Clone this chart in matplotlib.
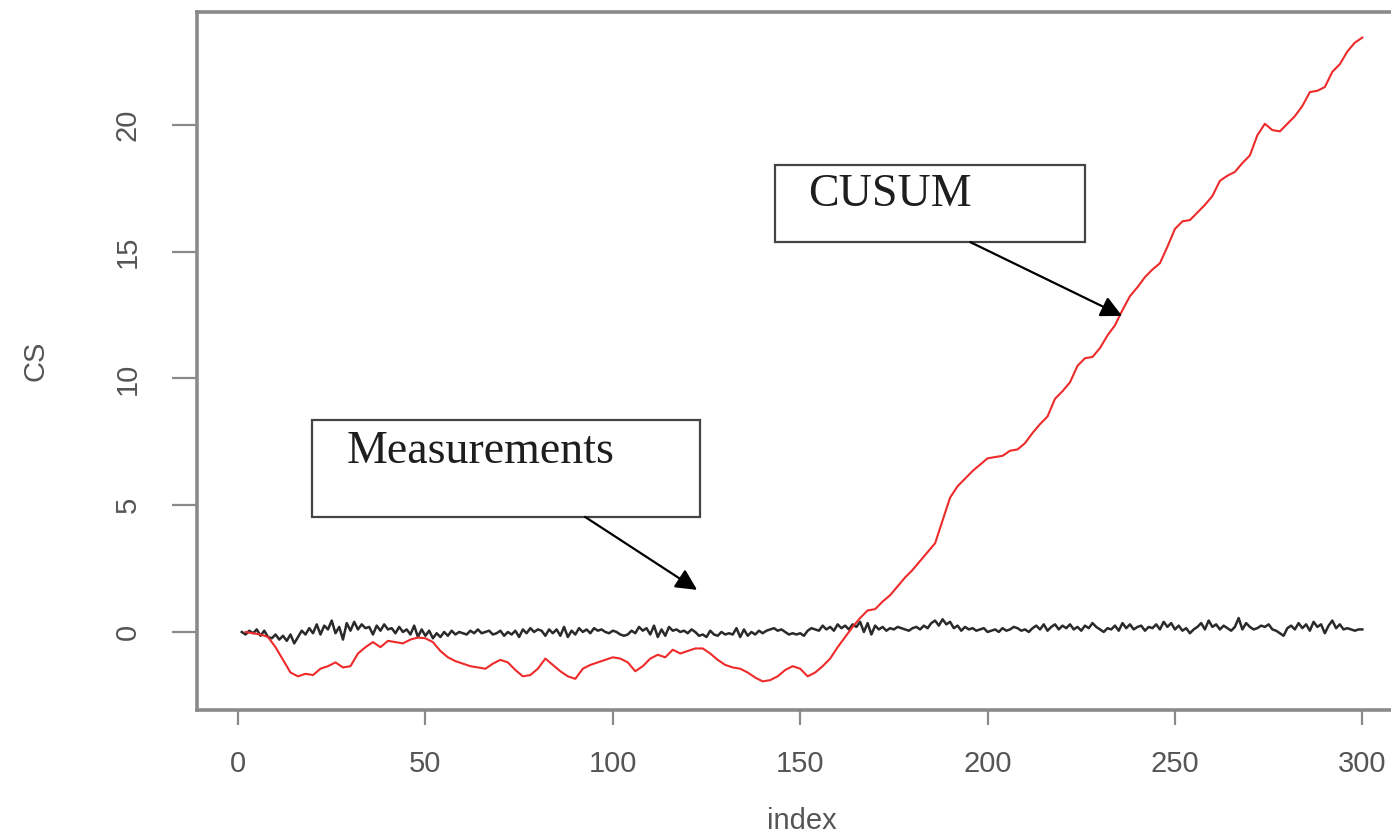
import matplotlib.pyplot as plt
from matplotlib.patches import Rectangle

# raw measurements, one per index
meas_index = list(range(1, 301))
measurements = [
    0.0, -0.1, 0.05, -0.05, 0.1, -0.15, 0.05, -0.2, -0.25, -0.1, -0.3, -0.15, -0.35, -0.1, -0.45, -0.2, 0.05, -0.1, 0.15, -0.05,
    0.3, -0.1, 0.25, 0.1, 0.45, -0.05, 0.2, -0.3, 0.35, 0.05, 0.4, 0.1, 0.3, 0.15, 0.2, -0.1, 0.25, 0.05, 0.3, 0.1,
    0.15, -0.05, 0.2, 0.0, 0.1, -0.1, 0.25, -0.2, 0.1, -0.15, 0.05, -0.25, -0.05, -0.2, 0.0, -0.15, 0.05, -0.1, 0.0, -0.05,
    -0.1, 0.05, -0.05, 0.1, -0.05, 0.0, 0.05, -0.1, -0.05, 0.05, -0.15, 0.0, -0.1, 0.05, -0.2, 0.1, -0.05, 0.15, 0.0, 0.1,
    0.05, -0.15, 0.1, -0.05, 0.1, -0.15, 0.2, -0.2, 0.05, -0.1, 0.15, 0.0, 0.1, -0.05, 0.15, 0.05, 0.1, 0.0, -0.05, 0.05,
    0.0, -0.1, -0.15, -0.1, 0.05, -0.05, 0.2, 0.05, 0.15, -0.1, 0.25, -0.2, 0.1, -0.15, 0.2, 0.05, 0.1, 0.0, 0.05, -0.05,
    0.1, 0.0, -0.15, -0.1, -0.2, 0.05, -0.1, -0.15, 0.0, -0.1, -0.05, -0.1, 0.15, -0.2, 0.1, -0.15, 0.0, -0.1, 0.05, -0.05,
    0.05, 0.1, 0.15, 0.05, 0.1, 0.0, -0.1, -0.05, -0.1, -0.05, -0.15, 0.05, 0.15, 0.1, 0.05, 0.25, 0.1, 0.2, 0.05, 0.3,
    0.15, 0.25, 0.1, 0.3, 0.2, 0.4, 0.0, 0.35, -0.1, 0.25, 0.1, 0.2, 0.05, 0.15, 0.1, 0.2, 0.15, 0.1, 0.05, 0.15,
    0.2, 0.1, 0.25, 0.15, 0.35, 0.45, 0.25, 0.5, 0.3, 0.4, 0.15, 0.25, 0.05, 0.2, 0.1, 0.15, 0.05, 0.1, 0.15, 0.0,
    0.05, 0.1, 0.0, 0.15, 0.05, 0.1, 0.2, 0.15, 0.05, 0.1, 0.0, 0.15, 0.25, 0.1, 0.3, 0.05, 0.2, 0.3, 0.1, 0.25,
    0.15, 0.3, 0.1, 0.2, 0.05, 0.25, 0.15, 0.35, 0.2, 0.1, 0.0, 0.15, 0.1, 0.25, 0.05, 0.35, 0.15, 0.3, 0.1, 0.2,
    0.25, 0.05, 0.2, 0.15, 0.3, 0.1, 0.4, 0.2, 0.35, 0.1, 0.25, 0.05, 0.15, -0.05, 0.1, 0.2, 0.35, 0.1, 0.45, 0.2,
    0.3, 0.1, 0.25, 0.15, 0.05, 0.2, 0.55, 0.1, 0.35, 0.2, 0.1, 0.15, 0.25, 0.2, 0.3, 0.1, 0.05, -0.05, -0.15, 0.15,
    0.25, 0.1, 0.35, 0.15, 0.3, 0.05, 0.4, 0.2, 0.3, -0.05, 0.25, 0.45, 0.15, 0.3, 0.1, 0.15, 0.1, 0.05, 0.1, 0.1,
]

# cumulative sum, read every second index
cs_index = list(range(2, 301, 2))
cusum = [
    0.0, -0.05, -0.1, -0.2, -0.6, -1.1, -1.6, -1.75, -1.65, -1.7,
    -1.45, -1.35, -1.2, -1.4, -1.35, -0.85, -0.6, -0.4, -0.6, -0.35,
    -0.4, -0.45, -0.3, -0.22, -0.25, -0.4, -0.75, -1.0, -1.15, -1.25,
    -1.35, -1.4, -1.45, -1.25, -1.1, -1.2, -1.5, -1.75, -1.7, -1.45,
    -1.05, -1.3, -1.55, -1.75, -1.85, -1.45, -1.3, -1.2, -1.1, -1.0,
    -1.05, -1.2, -1.55, -1.35, -1.05, -0.9, -1.0, -0.7, -0.85, -0.75,
    -0.65, -0.65, -0.85, -1.1, -1.3, -1.4, -1.45, -1.6, -1.8, -1.95,
    -1.9, -1.75, -1.5, -1.35, -1.45, -1.75, -1.6, -1.35, -1.05, -0.6,
    -0.2, 0.2, 0.55, 0.85, 0.9, 1.2, 1.45, 1.8, 2.15, 2.45,
    2.8, 3.15, 3.5, 4.4, 5.3, 5.75, 6.05, 6.35, 6.6, 6.85,
    6.9, 6.95, 7.15, 7.2, 7.45, 7.85, 8.2, 8.5, 9.2, 9.5,
    9.85, 10.5, 10.8, 10.85, 11.2, 11.7, 12.1, 12.7, 13.25, 13.6,
    14.0, 14.3, 14.55, 15.2, 15.9, 16.2, 16.25, 16.55, 16.85, 17.2,
    17.8, 18.0, 18.15, 18.5, 18.8, 19.6, 20.05, 19.8, 19.75, 20.05,
    20.35, 20.75, 21.3, 21.35, 21.5, 22.1, 22.4, 22.9, 23.25, 23.45,
]

x_ticks = [0, 50, 100, 150, 200, 250, 300]
y_ticks = [0, 5, 10, 15, 20]

plt.rcParams['font.family'] = ['Liberation Sans', 'DejaVu Sans']
fig = plt.figure(figsize=(13.91, 8.38), dpi=100)
ax = fig.add_axes([0.1416, 0.1527, 0.870, 0.833])

ax.plot(meas_index, measurements, color='#2a2a2a', linewidth=1.8)
ax.plot(cs_index, cusum, color='#ee2a2a', linewidth=1.5)

ax.set_xlim(-10.96, 311.96)
ax.set_ylim(-3.08, 24.46)
ax.set_xticks(x_ticks)
ax.set_yticks(y_ticks)
ax.set_yticklabels([str(v) for v in y_ticks], rotation=90, va='center')

grey = '#8a8a8a'
for s in ax.spines.values():
    s.set_color(grey)
    s.set_linewidth(2.6)
ax.tick_params(axis='x', length=11, width=1.6, color=grey, labelcolor='#555555',
               labelsize=21, pad=18)
ax.tick_params(axis='y', length=18, width=1.6, color=grey, labelcolor='#555555',
               labelsize=21, pad=22)
ax.set_xlabel('index', fontsize=21, color='#555555', labelpad=21)
ax.set_ylabel('CS', fontsize=21, color='#555555', labelpad=46)

# boxed labels with arrows
box_kw = dict(fill=False, edgecolor='#444444', linewidth=1.6)
ax.add_patch(Rectangle((143.3, 15.38), 82.7, 3.04, **box_kw))
ax.text(152.1, 17.24, 'CUSUM', family='Liberation Serif', fontsize=33,
        color='#1e1e1e', va='center', ha='left')
ax.annotate('', xy=(235.9, 12.47), xytext=(195.4, 15.38),
            arrowprops=dict(arrowstyle='-|>', color='black', lw=1.6,
                            mutation_scale=32, shrinkA=0, shrinkB=0))

ax.add_patch(Rectangle((19.75, 4.54), 103.55, 3.82, **box_kw))
ax.text(29.1, 7.10, 'Measurements', family='Liberation Serif', fontsize=33,
        color='#1e1e1e', va='center', ha='left')
ax.annotate('', xy=(122.5, 1.66), xytext=(92.6, 4.54),
            arrowprops=dict(arrowstyle='-|>', color='black', lw=1.6,
                            mutation_scale=32, shrinkA=0, shrinkB=0))

fig.savefig('out.png', dpi=100)
